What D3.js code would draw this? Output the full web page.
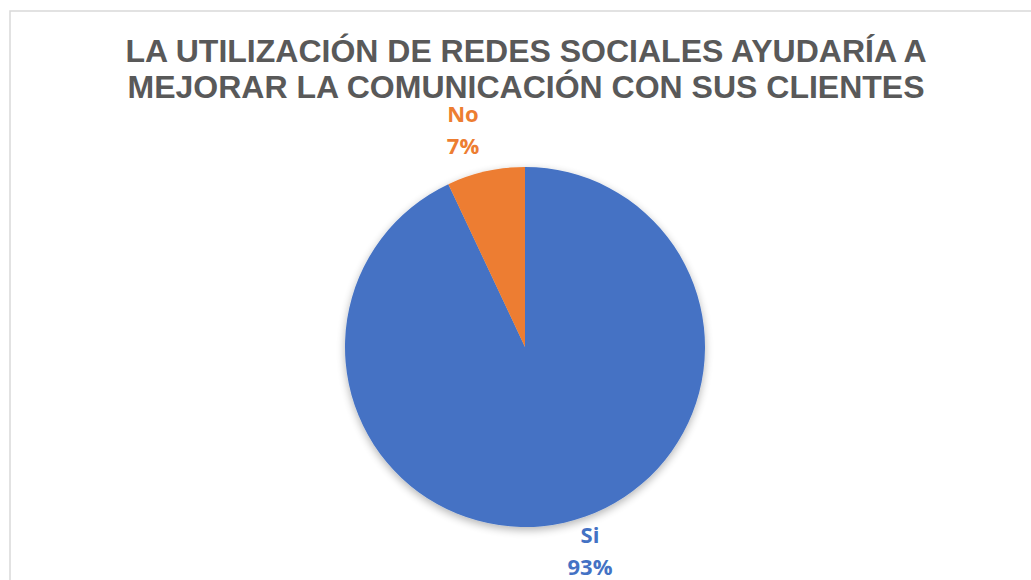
<!DOCTYPE html>
<html><head><meta charset="utf-8">
<script src="https://cdn.jsdelivr.net/npm/d3@7"></script>
<style>body{margin:0;background:#fff}svg{display:block}</style>
</head><body>
<script>
const categories = ["Si", "No"];
const values = [93, 7];
const percentLabels = ["93%", "7%"];
const colors = ["#4472C4", "#ED7D31"];
const titleLines = ["LA UTILIZACIÓN DE REDES SOCIALES AYUDARÍA A", "MEJORAR LA COMUNICACIÓN CON SUS CLIENTES"];

const W = 1031, H = 580;
const svg = d3.select("body").append("svg").attr("width", W).attr("height", H);
svg.append("rect").attr("x", 10).attr("y", 11).attr("width", W + 10).attr("height", H + 10)
  .attr("fill", "#fff").attr("stroke", "#d9d9d9").attr("stroke-width", 1.5);

const defs = svg.append("defs");
const f = defs.append("filter").attr("id", "sh").attr("x", "-20%").attr("y", "-20%").attr("width", "140%").attr("height", "140%");
f.append("feGaussianBlur").attr("in", "SourceAlpha").attr("stdDeviation", 4);
f.append("feOffset").attr("dx", 0).attr("dy", 3).attr("result", "b");
f.append("feComponentTransfer").append("feFuncA").attr("type", "linear").attr("slope", 0.3);
const m = f.append("feMerge"); m.append("feMergeNode"); m.append("feMergeNode").attr("in", "SourceGraphic");

svg.append("g").selectAll("text").data(titleLines).join("text")
  .attr("x", 526).attr("y", (d, i) => 62 + i * 35.5)
  .attr("text-anchor", "middle")
  .attr("font-family", "Liberation Sans, Arial, sans-serif").attr("font-weight", "bold")
  .attr("font-size", 32).attr("fill", "#595959").text(d => d);

const cx = 525, cy = 347, r = 180;
const data = categories.map((c, i) => ({ cat: c, value: values[i], pct: percentLabels[i], color: colors[i] }));
const pie = d3.pie().value(d => d.value).sort(null);
const arc = d3.arc().innerRadius(0).outerRadius(r);
const g = svg.append("g").attr("transform", `translate(${cx},${cy})`).attr("filter", "url(#sh)");
g.selectAll("path").data(pie(data)).join("path").attr("d", arc).attr("fill", d => d.data.color);

const labelPos = { "Si": [590, 543], "No": [463, 122] };
const lg = svg.append("g");
data.forEach(d => {
  const [x, y] = labelPos[d.cat];
  const t = lg.append("text").attr("text-anchor", "middle")
    .attr("font-family", "Open Sans, sans-serif").attr("font-weight", "bold")
    .attr("font-size", 22).attr("fill", d.color);
  t.append("tspan").attr("x", x).attr("y", y).text(d.cat);
  t.append("tspan").attr("x", x).attr("y", y + 32).text(d.pct);
});
</script>
</body></html>
